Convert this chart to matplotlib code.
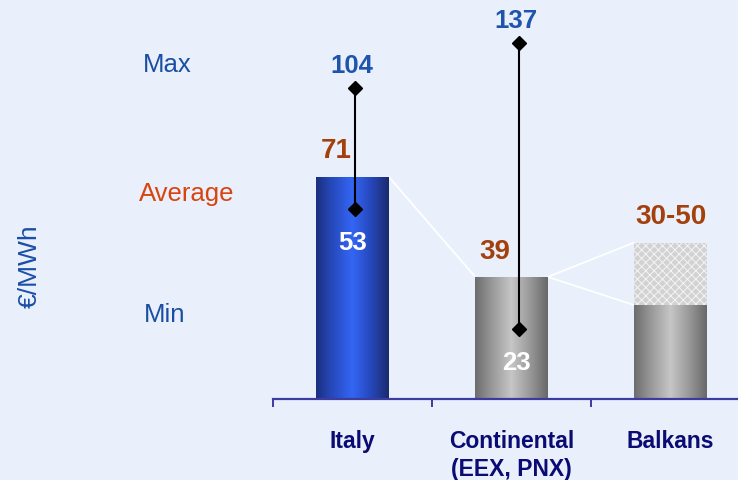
import matplotlib
matplotlib.use("Agg")
import matplotlib.pyplot as plt
import numpy as np
from matplotlib.colors import LinearSegmentedColormap

# ---------------- data ----------------
categories = ["Italy", "Continental\n(EEX, PNX)", "Balkans"]
avg_values = [71, 39, 30]
avg_range_top = [None, None, 50]
avg_labels = ["71", "39", "30-50"]
max_values = [104, 137, None]
min_values = [53, 23, None]
row_labels = ["Max", "Average", "Min"]
unit_label = "€/MWh"

# ---------------- layout ----------------
W, H, DPI = 738, 481, 100
BG = "#E9F0FB"
plt.rcParams["font.family"] = ["Liberation Sans", "DejaVu Sans"]
fig = plt.figure(figsize=(W / DPI, H / DPI), dpi=DPI, facecolor=BG)

x_left_px, base_px = 273, 400
cat_step_px = 159.0
px_per_unit = 3.13
ax = fig.add_axes([x_left_px / W, (H - base_px) / H, (W - x_left_px) / W, base_px / H])
ax.set_facecolor("none")
xmin, xmax = -0.5, -0.5 + (W - x_left_px) / cat_step_px
ymax = base_px / px_per_unit

bw = 0.456
xs = np.arange(len(categories))

blue_cmap = LinearSegmentedColormap.from_list(
    "b", [(0, "#1B2F7C"), (0.2, "#2547B8"), (0.5, "#3466F4"), (0.75, "#2648BC"), (1, "#1A2A6C")])
gray_cmap = LinearSegmentedColormap.from_list(
    "g", [(0, "#6C6C6C"), (0.2, "#939393"), (0.5, "#C6C6C6"), (0.75, "#9A9A9A"), (1, "#686868")])
bar_cmaps = [blue_cmap, gray_cmap, gray_cmap]

bars = ax.bar(xs, avg_values, width=bw, color="none", edgecolor="none", zorder=2)
grad = np.linspace(0, 1, 256).reshape(1, -1)
for patch, cm in zip(bars, bar_cmaps):
    x0, y0 = patch.get_x(), patch.get_y()
    im = ax.imshow(grad, extent=[x0, x0 + patch.get_width(), y0, y0 + patch.get_height()],
                   cmap=cm, aspect="auto", origin="lower", zorder=2, interpolation="bilinear")
    im.set_clip_path(patch)

# range (checked) segment
plt.rcParams["hatch.linewidth"] = 0.7
for x, lo, hi in zip(xs, avg_values, avg_range_top):
    if hi is not None:
        ax.bar(x, hi - lo, bottom=lo, width=bw, color="#D2D2D2", edgecolor="#F4F4F4",
               hatch="xxxx", linewidth=0, zorder=2)

# white connector lines between bar tops
tops = [h if h is not None else v for v, h in zip(avg_values, avg_range_top)]
for i in range(len(xs) - 1):
    xa = xs[i] + bw / 2
    xb = xs[i + 1] - bw / 2
    targets = {avg_values[i + 1], tops[i + 1]}
    for t in targets:
        ax.plot([xa, xb], [tops[i], t], color="white", lw=1.3, zorder=1, solid_capstyle="butt")

# average labels
avg_color = "#A3400C"
for x, top, lab, mx in zip(xs, tops, avg_labels, max_values):
    dx = -12 if mx is not None else 0
    ax.annotate(lab, (x, top), xytext=(dx, 19), textcoords="offset points",
                ha="center", va="center", fontsize=20, fontweight="bold", color=avg_color, zorder=5)

ax.set_xlim(xmin, xmax)
ax.set_ylim(0, ymax)

# axis styling
axis_color = "#3C3CA0"
for s in ["top", "right", "left"]:
    ax.spines[s].set_visible(False)
ax.spines["bottom"].set_color(axis_color)
ax.spines["bottom"].set_linewidth(1.6)
ax.set_yticks([])
ax.set_xticks(xs, [""] * len(xs))
ax.set_xticks([-0.5, 0.5, 1.5], minor=True)
ax.tick_params(axis="x", which="major", length=0)
ax.tick_params(axis="x", which="minor", length=6, width=1.4, color=axis_color, direction="out")
for x, cat in zip(xs, categories):
    ax.annotate(cat, (x, 0), xycoords=("data", "axes fraction"), xytext=(0, -21.5),
                textcoords="offset points", ha="center", va="top", fontsize=16.5,
                fontweight="bold", color="#0B0B74", linespacing=1.3, annotation_clip=False)

# whiskers, each drawn on its own schematic scale (as in the original slide)
whisker_scales = [(2.37, 335.6), (2.509, 387.7)]  # px per unit, zero line px from top
whisker_dx = [0.016, 0.048]
max_color = "#1F54AE"
wi = 0
for x, mx, mn in zip(xs, max_values, min_values):
    if mx is None:
        continue
    slope, zero_px = whisker_scales[wi]
    tw = ax.twinx()
    tw.set_ylim((zero_px - base_px) / slope, zero_px / slope)
    tw.set_xlim(xmin, xmax)
    tw.axis("off")
    xx = x + whisker_dx[wi]
    tw.plot([xx, xx], [mn, mx], color="black", lw=1.5, zorder=3)
    tw.plot([xx, xx], [mn, mx], ls="none", marker="D", ms=7.5, color="black", zorder=4)
    tw.annotate(str(mx), (xx, mx), xytext=(-2, 16.5), textcoords="offset points",
                ha="center", va="center", fontsize=18.5, fontweight="bold", color=max_color)
    tw.annotate(str(mn), (xx, mn), xytext=(-2, -23.5), textcoords="offset points",
                ha="center", va="center", fontsize=18.5, fontweight="bold", color="white")
    wi += 1

# row labels on the left
row_colors = ["#1A4EA2", "#D8430F", "#1A4EA2"]
row_pos_px = [(167, 65), (187, 194), (165, 315)]
for lab, c, (px, py) in zip(row_labels, row_colors, row_pos_px):
    fig.text(px / W, 1 - py / H, lab, ha="center", va="center", fontsize=18.5, color=c)
fig.text(30 / W, 1 - 266 / H, unit_label, ha="center", va="center", rotation=90,
         fontsize=19, color="#1A4EA8")

fig.savefig("out.png", dpi=DPI, facecolor=BG)
